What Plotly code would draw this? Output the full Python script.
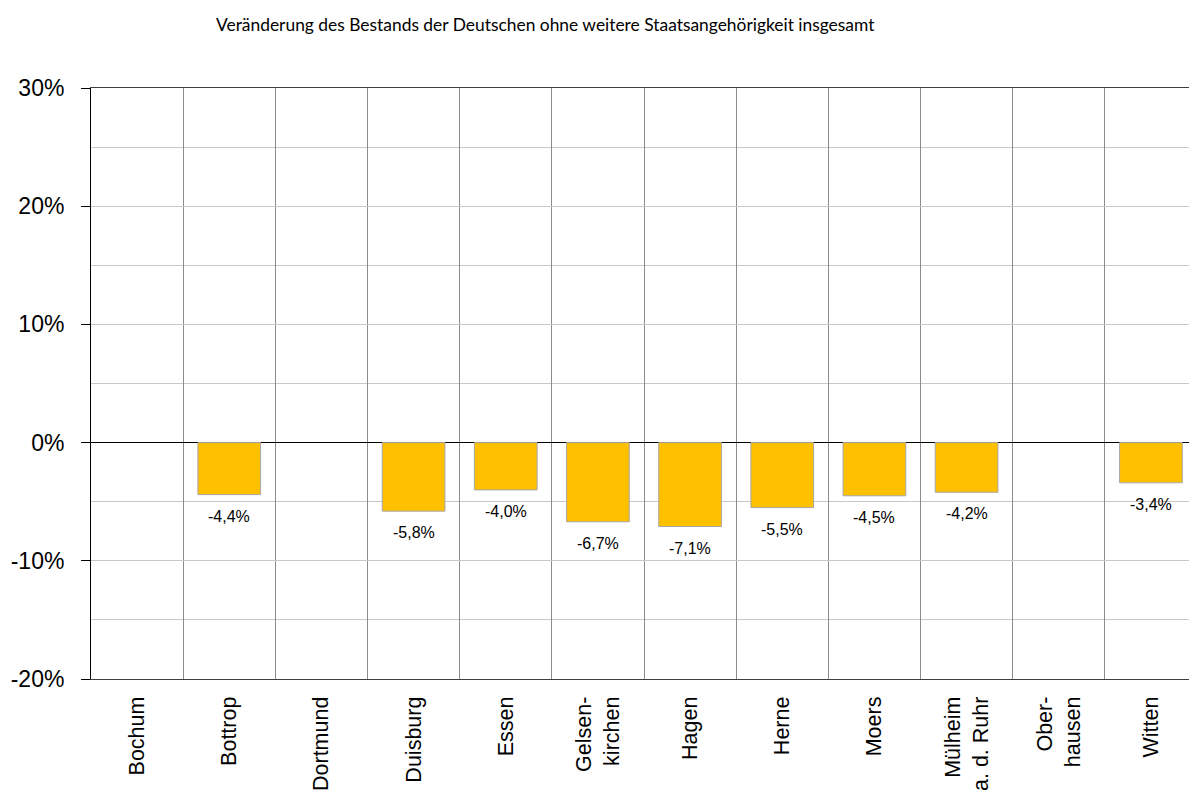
import plotly.graph_objects as go

title_text = "Veränderung des Bestands der Deutschen ohne weitere Staatsangehörigkeit insgesamt"
categories = ["Bochum", "Bottrop", "Dortmund", "Duisburg", "Essen", "Gelsenkirchen",
              "Hagen", "Herne", "Moers", "Mülheim a. d. Ruhr", "Oberhausen", "Witten"]
tick_labels = ["Bochum", "Bottrop", "Dortmund", "Duisburg", "Essen", "Gelsen-<br>kirchen",
               "Hagen", "Herne", "Moers", "Mülheim<br>a. d. Ruhr", "Ober-<br>hausen", "Witten"]
values = [None, -4.4, None, -5.8, -4.0, -6.7, -7.1, -5.5, -4.5, -4.2, None, -3.4]
y_ticks = [-20, -10, 0, 10, 20, 30]

# page has an 8px body margin; figure is sized/positioned to compensate
W, H = 1189, 794
L, T, B = 83, 80, 123

fig = go.Figure()
fig.add_trace(go.Bar(
    x=categories, y=values, width=0.68,
    marker=dict(color="#FFC000", line=dict(color="#A6A6A6", width=1)),
    hoverinfo="skip",
))

for c, v in zip(categories, values):
    if v is None:
        continue
    fig.add_annotation(
        x=c, y=v, text=f"{v:.1f}%".replace(".", ","), showarrow=False,
        yanchor="top", yshift=-11,
        font=dict(family="Arial, Liberation Sans", size=16, color="#000000"),
    )

fig.add_annotation(
    xref="paper", yref="paper", x=(537 - L) / (W - L), y=1, yshift=T - 16,
    text=title_text, showarrow=False, xanchor="center", yanchor="middle",
    font=dict(family="Lato", size=17.4, color="#000000"),
)

fig.update_layout(
    width=W, height=H,
    margin=dict(l=L, r=0, t=T, b=B, pad=0),
    paper_bgcolor="white", plot_bgcolor="white",
    showlegend=False, bargap=0.32,
    xaxis=dict(
        type="category", categoryorder="array", categoryarray=categories,
        tickmode="array", tickvals=categories, ticktext=tick_labels,
        tickangle=-90, tickson="boundaries", ticks="", ticklen=0,
        showgrid=True, gridcolor="#8C8C8C", gridwidth=1,
        showline=True, linecolor="#404040", linewidth=1, mirror=True,
        tickfont=dict(family="Arial, Liberation Sans", size=21.5, color="#000000"),
        ticklabelstandoff=8, automargin=False,
        range=[-0.5, 11.5],
    ),
    yaxis=dict(
        range=[-20, 30], tickmode="array", tickvals=y_ticks,
        ticktext=[f"{t}%" for t in y_ticks],
        ticks="outside", ticklen=9, tickcolor="#000000",
        showgrid=True, gridcolor="#C8C8C8", gridwidth=1,
        minor=dict(dtick=5, showgrid=True, gridcolor="#C8C8C8", gridwidth=1),
        zeroline=True, zerolinecolor="#000000", zerolinewidth=1,
        showline=True, linecolor="#000000", linewidth=1,
        tickfont=dict(family="Arial, Liberation Sans", size=23, color="#000000"),
        ticklabelstandoff=12, automargin=False,
    ),
)

fig.write_html("out.html")
